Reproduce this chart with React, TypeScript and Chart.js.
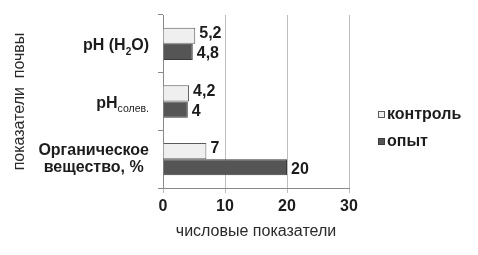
import React, { useEffect, useRef } from 'react';
import { Chart, registerables } from 'chart.js';

Chart.register(...registerables);

// ---- data ----
const categories = ['pH (H_{2}O)', 'pH_{солев.}', 'Органическое\nвещество, %'];
const seriesNames = ['контроль', 'опыт'];
const controlValues = [5.2, 4.2, 7];
const experimentValues = [4.8, 4, 20];
const xMin = 0;
const xMax = 30;
const xStep = 10;
const xTitle = 'числовые показатели';
const yTitle = 'показатели  почвы';

const FONT = '"Liberation Sans", Arial, sans-serif';
const TEXT = '#1c1c1c';
const colors = ['#efefef', '#555555'];
const borders = ['#5a5a5a', '#3a3a3a'];

type Seg = { t: string; sub: boolean };
function parse(line: string): Seg[] {
  const out: Seg[] = [];
  const re = /_\{([^}]*)\}/g;
  let last = 0;
  let m: RegExpExecArray | null;
  while ((m = re.exec(line))) {
    if (m.index > last) out.push({ t: line.slice(last, m.index), sub: false });
    out.push({ t: m[1], sub: true });
    last = m.index + m[0].length;
  }
  if (last < line.length) out.push({ t: line.slice(last), sub: false });
  return out;
}

const mainFont = `bold 16px ${FONT}`;
function subFont(t: string) {
  return /^\d+$/.test(t) ? `bold 10px ${FONT}` : `10.5px ${FONT}`;
}

function measureLine(ctx: CanvasRenderingContext2D, segs: Seg[]) {
  let w = 0;
  for (const s of segs) {
    ctx.font = s.sub ? subFont(s.t) : mainFont;
    w += ctx.measureText(s.t).width;
  }
  return w;
}

const overlayPlugin = {
  id: 'overlay',
  afterDraw(chart: any) {
    const ctx: CanvasRenderingContext2D = chart.ctx;
    const yScale = chart.scales.y;
    const area = chart.chartArea;
    ctx.save();
    ctx.fillStyle = TEXT;
    ctx.textBaseline = 'middle';

    // category labels (with subscripts)
    const rightEdge = area.left - 14;
    categories.forEach((cat, i) => {
      const cy = yScale.getPixelForValue(i);
      const lines = cat.split('\n').map(parse);
      const widths = lines.map((l) => measureLine(ctx, l));
      const maxW = Math.max(...widths);
      const lh = 17;
      const startY = cy - ((lines.length - 1) * lh) / 2 + (lines.length === 1 ? 2 : 0);
      lines.forEach((segs, li) => {
        const y = startY + li * lh;
        let x = lines.length === 1 ? rightEdge - widths[li] : rightEdge - maxW / 2 - widths[li] / 2;
        ctx.textAlign = 'left';
        for (const s of segs) {
          ctx.font = s.sub ? subFont(s.t) : mainFont;
          ctx.fillText(s.t, x, s.sub ? y + 6 : y);
          x += ctx.measureText(s.t).width;
        }
      });
    });

    // value labels
    ctx.font = `bold 16px ${FONT}`;
    ctx.textAlign = 'left';
    chart.data.datasets.forEach((ds: any, di: number) => {
      const meta = chart.getDatasetMeta(di);
      meta.data.forEach((bar: any, i: number) => {
        const v = ds.data[i];
        const txt = String(v).replace('.', ',');
        ctx.fillText(txt, bar.x + 4, bar.y + (di === 0 ? -2 : 2));
      });
    });

    // axis titles
    ctx.font = `16px ${FONT}`;
    ctx.fillStyle = '#2a2a2a';
    ctx.textAlign = 'center';
    ctx.fillText(xTitle, (area.left + area.right) / 2, 232);
    ctx.save();
    ctx.translate(20, (area.top + area.bottom) / 2);
    ctx.rotate(-Math.PI / 2);
    ctx.fillText(yTitle, 0, 0);
    ctx.restore();

    // legend
    const lx = 378;
    const ly = [115, 142];
    seriesNames.forEach((name, i) => {
      ctx.fillStyle = colors[i];
      ctx.fillRect(lx + 0.5, ly[i] - 3.5, 6, 6);
      ctx.strokeStyle = borders[i];
      ctx.lineWidth = 1;
      ctx.strokeRect(lx + 0.5, ly[i] - 3.5, 6, 6);
      ctx.fillStyle = TEXT;
      ctx.font = `bold 16px ${FONT}`;
      ctx.textAlign = 'left';
      ctx.fillText(name, lx + 9, ly[i]);
    });
    ctx.restore();
  },
};

export default function App() {
  const ref = useRef<HTMLCanvasElement | null>(null);
  useEffect(() => {
    if (!ref.current) return;
    const chart = new Chart(ref.current, {
      type: 'bar',
      data: {
        labels: categories,
        datasets: [
          {
            label: seriesNames[0],
            data: controlValues,
            backgroundColor: colors[0],
            borderColor: borders[0],
            borderWidth: 1,
            categoryPercentage: 0.56,
            barPercentage: 1,
          },
          {
            label: seriesNames[1],
            data: experimentValues,
            backgroundColor: colors[1],
            borderColor: borders[1],
            borderWidth: 1,
            categoryPercentage: 0.56,
            barPercentage: 1,
          },
        ],
      },
      options: {
        indexAxis: 'y',
        animation: false,
        responsive: true,
        maintainAspectRatio: false,
        layout: { padding: { left: 0, top: 15, right: 129, bottom: 0 } },
        plugins: {
          legend: { display: false },
          tooltip: { enabled: false },
        },
        scales: {
          x: {
            min: xMin,
            max: xMax,
            ticks: {
              stepSize: xStep,
              color: TEXT,
              font: { family: FONT, size: 16, weight: 'bold' },
              padding: 4,
            },
            grid: {
              color: '#bdbdbd',
              tickLength: 5,
              lineWidth: 1,
            },
            border: { display: true, color: '#8a8a8a' },
            afterFit: (s: any) => {
              s.height = 67;
            },
          },
          y: {
            ticks: { display: false },
            grid: {
              drawOnChartArea: false,
              drawTicks: true,
              tickLength: 5,
              color: '#8a8a8a',
            },
            border: { display: true, color: '#8a8a8a' },
            afterFit: (s: any) => {
              s.width = 163;
            },
          },
        },
      },
      plugins: [overlayPlugin],
    } as any);
    return () => chart.destroy();
  }, []);
  return (
    <div style={{ position: 'fixed', left: 0, top: 0, width: 478, height: 255, background: '#fff' }}>
      <canvas ref={ref} />
    </div>
  );
}
